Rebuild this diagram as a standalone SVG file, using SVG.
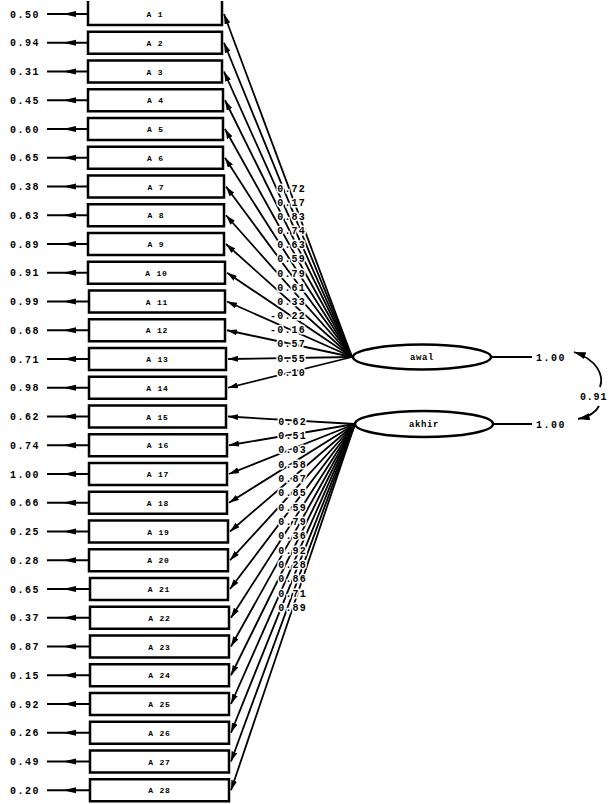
<svg xmlns="http://www.w3.org/2000/svg" width="609" height="804" viewBox="0 0 609 804">
<style>
.bx{fill:#fff;stroke:#000;stroke-width:2.5}
.el{fill:#fff;stroke:#000;stroke-width:2.5}
.ln{stroke:#000;stroke-width:1.8;fill:none}
.v{font-family:"Liberation Mono",monospace;font-weight:bold;font-size:10px;letter-spacing:1.5px;fill:#000}
.lb{font-family:"Liberation Mono",monospace;font-weight:bold;font-size:10px;letter-spacing:1.2px;fill:#000;stroke:#fff;stroke-width:3;paint-order:stroke;text-anchor:end}
.bt{font-family:"Liberation Mono",monospace;font-weight:bold;font-size:8px;letter-spacing:0.8px;fill:#000;text-anchor:middle}
.nt{font-family:"Liberation Mono",monospace;font-weight:bold;font-size:9px;letter-spacing:0.6px;fill:#000;text-anchor:middle}
</style>
<defs>
<marker id="ah" viewBox="0 0 10 6" refX="10" refY="3" markerWidth="10" markerHeight="6" markerUnits="userSpaceOnUse" orient="auto"><path d="M0,0 L10,3 L0,6 z" fill="#000"/></marker>
<marker id="ah2" viewBox="0 0 10 6" refX="10" refY="3" markerWidth="12" markerHeight="7" markerUnits="userSpaceOnUse" orient="auto-start-reverse"><path d="M0,0 L10,3 L0,6 z" fill="#000"/></marker>
</defs>
<rect width="609" height="804" fill="#fff"/>

<g id="connectors">
<g class="ln">
<line x1="47" y1="14" x2="88" y2="14"/>
<line x1="47" y1="42.75" x2="88" y2="42.75"/>
<line x1="47" y1="71.5" x2="88" y2="71.5"/>
<line x1="47" y1="100.25" x2="88" y2="100.25"/>
<line x1="47" y1="129" x2="88" y2="129"/>
<line x1="47" y1="157.75" x2="88" y2="157.75"/>
<line x1="47" y1="186.5" x2="88" y2="186.5"/>
<line x1="47" y1="215.25" x2="88" y2="215.25"/>
<line x1="47" y1="244" x2="88" y2="244"/>
<line x1="47" y1="272.75" x2="88" y2="272.75"/>
<line x1="47" y1="301.5" x2="89" y2="301.5"/>
<line x1="47" y1="330.25" x2="89" y2="330.25"/>
<line x1="47" y1="359" x2="89" y2="359"/>
<line x1="47" y1="387.75" x2="89" y2="387.75"/>
<line x1="47" y1="416.5" x2="89" y2="416.5"/>
<line x1="47" y1="445.25" x2="89" y2="445.25"/>
<line x1="47" y1="474" x2="89" y2="474"/>
<line x1="47" y1="502.75" x2="89" y2="502.75"/>
<line x1="47" y1="531.5" x2="89" y2="531.5"/>
<line x1="47" y1="560.25" x2="89" y2="560.25"/>
<line x1="47" y1="589" x2="90" y2="589"/>
<line x1="47" y1="617.75" x2="90" y2="617.75"/>
<line x1="47" y1="646.5" x2="90" y2="646.5"/>
<line x1="47" y1="675.25" x2="90" y2="675.25"/>
<line x1="47" y1="704" x2="90" y2="704"/>
<line x1="47" y1="732.75" x2="90" y2="732.75"/>
<line x1="47" y1="761.5" x2="90" y2="761.5"/>
<line x1="47" y1="790.25" x2="90" y2="790.25"/>
</g>
<g fill="#000">
<polygon points="63,14 76,11 76,17"/>
<polygon points="63,42.75 76,39.75 76,45.75"/>
<polygon points="63,71.5 76,68.5 76,74.5"/>
<polygon points="63,100.25 76,97.25 76,103.25"/>
<polygon points="63,129 76,126 76,132"/>
<polygon points="63,157.75 76,154.75 76,160.75"/>
<polygon points="63,186.5 76,183.5 76,189.5"/>
<polygon points="63,215.25 76,212.25 76,218.25"/>
<polygon points="63,244 76,241 76,247"/>
<polygon points="63,272.75 76,269.75 76,275.75"/>
<polygon points="63,301.5 76,298.5 76,304.5"/>
<polygon points="63,330.25 76,327.25 76,333.25"/>
<polygon points="63,359 76,356 76,362"/>
<polygon points="63,387.75 76,384.75 76,390.75"/>
<polygon points="63,416.5 76,413.5 76,419.5"/>
<polygon points="63,445.25 76,442.25 76,448.25"/>
<polygon points="63,474 76,471 76,477"/>
<polygon points="63,502.75 76,499.75 76,505.75"/>
<polygon points="63,531.5 76,528.5 76,534.5"/>
<polygon points="63,560.25 76,557.25 76,563.25"/>
<polygon points="63,589 76,586 76,592"/>
<polygon points="63,617.75 76,614.75 76,620.75"/>
<polygon points="63,646.5 76,643.5 76,649.5"/>
<polygon points="63,675.25 76,672.25 76,678.25"/>
<polygon points="63,704 76,701 76,707"/>
<polygon points="63,732.75 76,729.75 76,735.75"/>
<polygon points="63,761.5 76,758.5 76,764.5"/>
<polygon points="63,790.25 76,787.25 76,793.25"/>
</g>
<g class="v">
<text x="10" y="17.5">0.50</text>
<text x="10" y="46.25">0.94</text>
<text x="10" y="75">0.31</text>
<text x="10" y="103.75">0.45</text>
<text x="10" y="132.5">0.60</text>
<text x="10" y="161.25">0.65</text>
<text x="10" y="190">0.38</text>
<text x="10" y="218.75">0.63</text>
<text x="10" y="247.5">0.89</text>
<text x="10" y="276.25">0.91</text>
<text x="10" y="305">0.99</text>
<text x="10" y="333.75">0.68</text>
<text x="10" y="362.5">0.71</text>
<text x="10" y="391.25">0.98</text>
<text x="10" y="420">0.62</text>
<text x="10" y="448.75">0.74</text>
<text x="10" y="477.5">1.00</text>
<text x="10" y="506.25">0.66</text>
<text x="10" y="535">0.25</text>
<text x="10" y="563.75">0.28</text>
<text x="10" y="592.5">0.65</text>
<text x="10" y="621.25">0.37</text>
<text x="10" y="650">0.87</text>
<text x="10" y="678.75">0.15</text>
<text x="10" y="707.5">0.92</text>
<text x="10" y="736.25">0.26</text>
<text x="10" y="765">0.49</text>
<text x="10" y="793.75">0.20</text>
</g>

<g class="ln" marker-end="url(#ah)">
<line x1="352" y1="357" x2="224" y2="14"/>
<line x1="352" y1="357" x2="224" y2="42.75"/>
<line x1="352" y1="357" x2="224" y2="71.5"/>
<line x1="352" y1="357" x2="225" y2="100.25"/>
<line x1="352" y1="357" x2="225" y2="129"/>
<line x1="352" y1="357" x2="225" y2="157.75"/>
<line x1="352" y1="357" x2="226" y2="186.5"/>
<line x1="352" y1="357" x2="226" y2="215.25"/>
<line x1="352" y1="357" x2="226" y2="244"/>
<line x1="352" y1="357" x2="227" y2="272.75"/>
<line x1="352" y1="357" x2="227" y2="301.5"/>
<line x1="352" y1="357" x2="227" y2="330.25"/>
<line x1="352" y1="357" x2="228" y2="359"/>
<line x1="352" y1="357" x2="228" y2="387.75"/>
</g>
<g class="ln" marker-end="url(#ah)">
<line x1="355" y1="424" x2="228" y2="416.5"/>
<line x1="355" y1="424" x2="229" y2="445.25"/>
<line x1="355" y1="424" x2="229" y2="474"/>
<line x1="355" y1="424" x2="229" y2="502.75"/>
<line x1="355" y1="424" x2="230" y2="531.5"/>
<line x1="355" y1="424" x2="230" y2="560.25"/>
<line x1="355" y1="424" x2="230" y2="589"/>
<line x1="355" y1="424" x2="231" y2="617.75"/>
<line x1="355" y1="424" x2="231" y2="646.5"/>
<line x1="355" y1="424" x2="231" y2="675.25"/>
<line x1="355" y1="424" x2="231" y2="704"/>
<line x1="355" y1="424" x2="231" y2="732.75"/>
<line x1="355" y1="424" x2="231" y2="761.5"/>
<line x1="355" y1="424" x2="231" y2="790.25"/>
</g>
<g class="lb">
<text x="306" y="192">0.72</text>
<text x="306" y="206">0.17</text>
<text x="306" y="220">0.83</text>
<text x="306" y="234">0.74</text>
<text x="306" y="248">0.63</text>
<text x="306" y="262">0.59</text>
<text x="306" y="276.5">0.79</text>
<text x="306" y="290.5">0.61</text>
<text x="306" y="305">0.33</text>
<text x="306" y="319">-0.22</text>
<text x="306" y="333">-0.16</text>
<text x="306" y="347">0.57</text>
<text x="306" y="362">0.55</text>
<text x="306" y="376">0.10</text>
<text x="307" y="425">0.62</text>
<text x="307" y="439">0.51</text>
<text x="307" y="453">0.03</text>
<text x="307" y="467.5">0.58</text>
<text x="307" y="482">0.87</text>
<text x="307" y="496">0.85</text>
<text x="307" y="510.5">0.59</text>
<text x="307" y="525">0.79</text>
<text x="307" y="539">0.36</text>
<text x="307" y="553.5">0.92</text>
<text x="307" y="568">0.28</text>
<text x="307" y="582">0.86</text>
<text x="307" y="596.5">0.71</text>
<text x="307" y="611">0.89</text>
</g>

<line class="ln" x1="492" y1="357" x2="532" y2="357"/>
<line class="ln" x1="493" y1="424" x2="532" y2="424"/>
<text class="v" x="536" y="360.5">1.00</text>
<text class="v" x="536" y="427.5">1.00</text>
<path class="ln" d="M574,352 C598,360 604,376 600,387 M599,406 C596,412 588,417 578,419" marker-start="url(#ah2)" marker-end="url(#ah2)"/>
<text class="v" x="580" y="400" style="letter-spacing:0.8px">0.91</text>
</g>

<g id="A1"><path class="bx" d="M88,1 V25 H222 V1"/><text class="bt" x="155" y="17">A 1</text></g>
<g id="A2"><rect class="bx" x="88" y="31.75" width="134" height="22"/><text class="bt" x="155" y="45.75">A 2</text></g>
<g id="A3"><rect class="bx" x="88" y="60.5" width="134" height="22"/><text class="bt" x="155" y="74.5">A 3</text></g>
<g id="A4"><rect class="bx" x="88" y="89.25" width="135" height="22"/><text class="bt" x="155.5" y="103.25">A 4</text></g>
<g id="A5"><rect class="bx" x="88" y="118" width="135" height="22"/><text class="bt" x="155.5" y="132">A 5</text></g>
<g id="A6"><rect class="bx" x="88" y="146.75" width="135" height="22"/><text class="bt" x="155.5" y="160.75">A 6</text></g>
<g id="A7"><rect class="bx" x="88" y="175.5" width="136" height="22"/><text class="bt" x="156" y="189.5">A 7</text></g>
<g id="A8"><rect class="bx" x="88" y="204.25" width="136" height="22"/><text class="bt" x="156" y="218.25">A 8</text></g>
<g id="A9"><rect class="bx" x="88" y="233" width="136" height="22"/><text class="bt" x="156" y="247">A 9</text></g>
<g id="A10"><rect class="bx" x="88" y="261.75" width="137" height="22"/><text class="bt" x="156.5" y="275.75">A 10</text></g>
<g id="A11"><rect class="bx" x="89" y="290.5" width="136" height="22"/><text class="bt" x="157" y="304.5">A 11</text></g>
<g id="A12"><rect class="bx" x="89" y="319.25" width="136" height="22"/><text class="bt" x="157" y="333.25">A 12</text></g>
<g id="A13"><rect class="bx" x="89" y="348" width="137" height="22"/><text class="bt" x="157.5" y="362">A 13</text></g>
<g id="A14"><rect class="bx" x="89" y="376.75" width="137" height="22"/><text class="bt" x="157.5" y="390.75">A 14</text></g>
<g id="A15"><rect class="bx" x="89" y="405.5" width="137" height="22"/><text class="bt" x="157.5" y="419.5">A 15</text></g>
<g id="A16"><rect class="bx" x="89" y="434.25" width="138" height="22"/><text class="bt" x="158" y="448.25">A 16</text></g>
<g id="A17"><rect class="bx" x="89" y="463" width="138" height="22"/><text class="bt" x="158" y="477">A 17</text></g>
<g id="A18"><rect class="bx" x="89" y="491.75" width="138" height="22"/><text class="bt" x="158" y="505.75">A 18</text></g>
<g id="A19"><rect class="bx" x="89" y="520.5" width="139" height="22"/><text class="bt" x="158.5" y="534.5">A 19</text></g>
<g id="A20"><rect class="bx" x="89" y="549.25" width="139" height="22"/><text class="bt" x="158.5" y="563.25">A 20</text></g>
<g id="A21"><rect class="bx" x="90" y="578" width="138" height="22"/><text class="bt" x="159" y="592">A 21</text></g>
<g id="A22"><rect class="bx" x="90" y="606.75" width="139" height="22"/><text class="bt" x="159.5" y="620.75">A 22</text></g>
<g id="A23"><rect class="bx" x="90" y="635.5" width="139" height="22"/><text class="bt" x="159.5" y="649.5">A 23</text></g>
<g id="A24"><rect class="bx" x="90" y="664.25" width="139" height="22"/><text class="bt" x="159.5" y="678.25">A 24</text></g>
<g id="A25"><rect class="bx" x="90" y="693" width="139" height="22"/><text class="bt" x="159.5" y="707">A 25</text></g>
<g id="A26"><rect class="bx" x="90" y="721.75" width="139" height="22"/><text class="bt" x="159.5" y="735.75">A 26</text></g>
<g id="A27"><rect class="bx" x="90" y="750.5" width="139" height="22"/><text class="bt" x="159.5" y="764.5">A 27</text></g>
<g id="A28"><rect class="bx" x="90" y="779.25" width="139" height="22"/><text class="bt" x="159.5" y="793.25">A 28</text></g>

<g id="awal"><ellipse class="el" cx="422" cy="357" rx="69" ry="12.5"/><text class="nt" x="422" y="360">awal</text></g>
<g id="akhir"><ellipse class="el" cx="424" cy="424" rx="69" ry="13"/><text class="nt" x="424" y="427">akhir</text></g>
</svg>
